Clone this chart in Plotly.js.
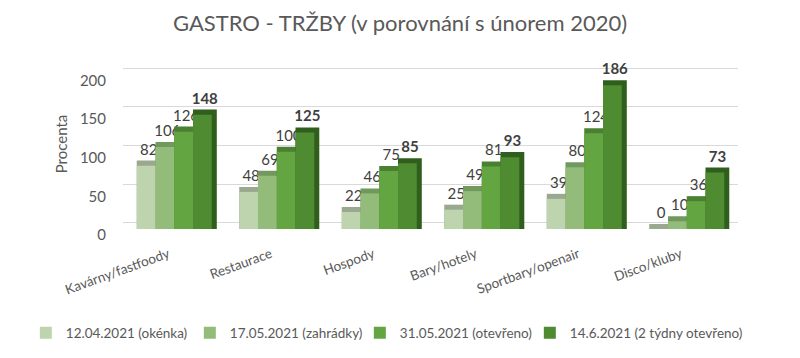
<!DOCTYPE html>
<html>
<head>
<meta charset="utf-8">
<script src="https://cdn.plot.ly/plotly-3.0.1.min.js"></script>
<style>html,body{margin:0;padding:0;background:#fff;}#chart{width:800px;height:358px;}</style>
</head>
<body>
<div id="chart"></div>
<script>
const categories = ['Kavárny/fastfoody', 'Restaurace', 'Hospody', 'Bary/hotely', 'Sportbary/openair', 'Disco/kluby'];
const seriesNames = ['12.04.2021 (okénka)', '17.05.2021 (zahrádky)', '31.05.2021 (otevřeno)', '14.6.2021 (2 týdny otevřeno)'];
const okenka = [82, 48, 22, 25, 39, 0];
const zahradky = [106, 69, 46, 49, 80, 10];
const otevreno = [126, 100, 75, 81, 124, 36];
const dvaTydny = [148, 125, 85, 93, 186, 73];
const yTicks = [0, 50, 100, 150, 200];

const series = [okenka, zahradky, otevreno, dvaTydny];
const frontColors = ['#bdd4ae', '#93bc7b', '#63a541', '#4e8b31'];
const depthColors = ['#9aa88f', '#71985d', '#4b7f31', '#2f5e1d'];
const boldLabels = [false, false, false, true];
const legendWidths = [119, 125, 125, 179];

const barW = 0.183;
const depthX = 0.049;
const depthY = 6.5;

const depthTraces = series.map((vals, i) => ({
  type: 'bar',
  x: categories,
  y: vals.map(v => v + depthY),
  offset: -0.366 + i * barW,
  width: barW + depthX,
  marker: {color: depthColors[i], line: {width: 0}},
  text: vals.map(v => boldLabels[i] ? '<b>' + v + '</b>' : String(v)),
  texttemplate: '%{text}',
  textposition: 'outside',
  constraintext: 'none',
  cliponaxis: false,
  textfont: {family: 'Lato, sans-serif', size: 15, color: '#404040'},
  showlegend: false,
  hoverinfo: 'skip'
}));

const frontTraces = series.map((vals, i) => ({
  type: 'bar',
  name: seriesNames[i],
  legendwidth: legendWidths[i],
  x: categories,
  y: vals,
  offset: -0.366 + i * barW,
  width: barW,
  marker: {color: frontColors[i], line: {width: 0}},
  cliponaxis: false
}));

// empty trace so the back-wall grid axis (y2) exists
const gridTrace = {type: 'scatter', x: [], y: [], yaxis: 'y2', showlegend: false, hoverinfo: 'skip'};

const layout = {
  width: 800,
  height: 358,
  margin: {l: 123, r: 62, t: 59, b: 129, autoexpand: false},
  paper_bgcolor: '#ffffff',
  plot_bgcolor: '#ffffff',
  barmode: 'overlay',
  font: {family: 'Lato, sans-serif', color: '#595959'},
  title: {
    text: 'GASTRO - TRŽBY (v porovnání s únorem 2020)',
    font: {family: 'Lato, sans-serif', size: 22, color: '#595959'},
    x: 0.5, xref: 'container', xanchor: 'center',
    y: 0.935, yref: 'container', yanchor: 'middle'
  },
  xaxis: {
    type: 'category',
    range: [-0.5, 5.5],
    tickangle: -20,
    tickfont: {size: 13.5, color: '#595959'},
    ticklabelshift: -6,
    ticklabelstandoff: 14,
    showline: false,
    showgrid: false,
    zeroline: false,
    ticks: '',
    automargin: false,
    fixedrange: true
  },
  yaxis: {
    range: [0, 220],
    tickvals: yTicks,
    tickfont: {size: 15, color: '#595959'},
    ticklabelshift: 6,
    ticklabelstandoff: 16,
    showgrid: false,
    zeroline: false,
    showline: false,
    ticks: '',
    automargin: false,
    title: {text: 'Procenta', font: {size: 15, color: '#595959'}, standoff: 8},
    fixedrange: true
  },
  yaxis2: {
    overlaying: 'y',
    range: [-8, 212],
    tickvals: yTicks,
    showticklabels: false,
    showgrid: true,
    gridcolor: '#d9d9d9',
    gridwidth: 1,
    zeroline: false,
    showline: false,
    ticks: '',
    fixedrange: true
  },
  showlegend: true,
  legend: {
    orientation: 'h',
    x: -0.158, xref: 'paper', xanchor: 'left',
    y: -0.612, yref: 'paper', yanchor: 'middle',
    font: {size: 13.5, color: '#595959'},
    itemwidth: 30,
    traceorder: 'normal'
  }
};

Plotly.newPlot('chart', depthTraces.concat(frontTraces, [gridTrace]), layout, {staticPlot: true, displayModeBar: false});
</script>
</body>
</html>
